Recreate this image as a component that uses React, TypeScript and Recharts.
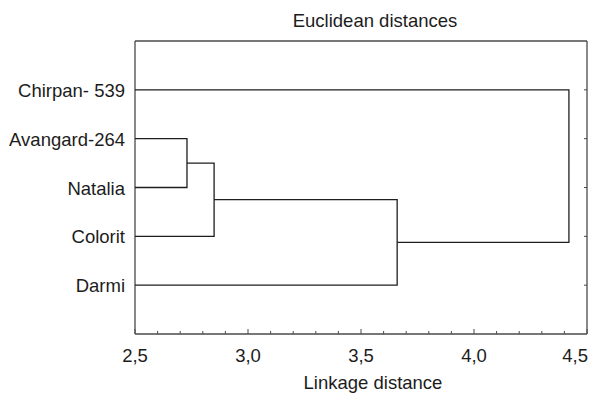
import { ScatterChart, Scatter, XAxis, YAxis } from 'recharts'

const leafNames = ['Chirpan- 539', 'Avangard-264', 'Natalia', 'Colorit', 'Darmi']
const leafSlots = [1, 2, 3, 4, 5]
// clusters 0-4 are the leaves, 5+ are the earlier merges (in order)
const mergeLeft = [1, 5, 6, 0]
const mergeRight = [2, 3, 4, 7]
const mergeHeights = [2.73, 2.85, 3.66, 4.42]

const majorTicks = [2.5, 3.0, 3.5, 4.0, 4.5]
const minorTicks = [
  2.5, 2.6, 2.7, 2.8, 2.9, 3.0, 3.1, 3.2, 3.3, 3.4, 3.5,
  3.6, 3.7, 3.8, 3.9, 4.0, 4.1, 4.2, 4.3, 4.4, 4.5
]

const FONT = 'Arial, "Liberation Sans", sans-serif'
const FS = 18.5
const TEXT = '#1c1c1c'
const FRAME = '#4a4a4a'
const LINK = '#1e1e1e'

// build the U-shaped links from the merge table
const nodeX: number[] = leafSlots.map(() => majorTicks[0])
const nodeY: number[] = [...leafSlots]
const links = mergeHeights.map((h, k) => {
  const a = mergeLeft[k]
  const b = mergeRight[k]
  nodeX.push(h)
  nodeY.push((nodeY[a] + nodeY[b]) / 2)
  return [
    { x: nodeX[a], y: nodeY[a] },
    { x: h, y: nodeY[a] },
    { x: h, y: nodeY[b] },
    { x: nodeX[b], y: nodeY[b] }
  ]
})

const fmt = (v: number) => v.toFixed(1).replace('.', ',')

function BottomTick({ x, y, payload }: any) {
  const major = majorTicks.includes(payload.value)
  const last = payload.value === majorTicks[majorTicks.length - 1]
  return (
    <g>
      <line x1={x} x2={x} y1={y} y2={y - (major ? 5 : 3)} stroke={FRAME} strokeWidth={1} />
      {major && (
        <text
          x={last ? x + 1 : x}
          y={y + 28}
          textAnchor={last ? 'end' : 'middle'}
          fontSize={FS}
          fontFamily={FONT}
          fill={TEXT}
        >
          {fmt(payload.value)}
        </text>
      )}
    </g>
  )
}

function TopTick({ x, y, payload }: any) {
  const major = majorTicks.includes(payload.value)
  return <line x1={x} x2={x} y1={y} y2={y + (major ? 5 : 3)} stroke={FRAME} strokeWidth={1} />
}

function LeftTick({ x, y, payload }: any) {
  return (
    <text x={x} y={y + 7} textAnchor="end" fontSize={FS} fontFamily={FONT} fill={TEXT}>
      {leafNames[payload.value - 1]}
    </text>
  )
}

function RightTick({ x, y }: any) {
  return <line x1={x} x2={x - 3} y1={y} y2={y} stroke={FRAME} strokeWidth={1} />
}

export default function App() {
  return (
    <div style={{ position: 'absolute', left: 0, top: 0 }}>
      <ScatterChart width={592} height={393} margin={{ top: 40, right: 0, bottom: 0, left: 0 }}>
        <XAxis
          type="number"
          dataKey="x"
          domain={[2.5, 4.5]}
          allowDataOverflow
          ticks={minorTicks}
          interval={0}
          height={59}
          tickSize={0}
          tickMargin={0}
          tickLine={false}
          axisLine={{ stroke: FRAME, strokeWidth: 1.3 }}
          tick={(p: any) => <BottomTick {...p} />}
          label={({ viewBox }: any) => (
            <text
              x={viewBox.x + viewBox.width / 2 + 12}
              y={389}
              textAnchor="middle"
              fontSize={FS}
              fontFamily={FONT}
              fill={TEXT}
            >
              Linkage distance
            </text>
          )}
        />
        <XAxis
          xAxisId="top"
          orientation="top"
          type="number"
          domain={[2.5, 4.5]}
          allowDataOverflow
          ticks={minorTicks}
          interval={0}
          height={1}
          tickSize={0}
          tickMargin={0}
          tickLine={false}
          axisLine={{ stroke: FRAME, strokeWidth: 1.3 }}
          tick={(p: any) => <TopTick {...p} />}
          label={({ viewBox }: any) => (
            <text
              x={viewBox.x + viewBox.width / 2 + 14}
              y={27}
              textAnchor="middle"
              fontSize={FS}
              fontFamily={FONT}
              fill={TEXT}
            >
              Euclidean distances
            </text>
          )}
        />
        <YAxis
          type="number"
          dataKey="y"
          domain={[0, 6]}
          reversed
          allowDataOverflow
          ticks={leafSlots}
          interval={0}
          width={135}
          tickSize={0}
          tickMargin={10}
          tickLine={false}
          axisLine={{ stroke: FRAME, strokeWidth: 1.3 }}
          tick={(p: any) => <LeftTick {...p} />}
        />
        <YAxis
          yAxisId="right"
          orientation="right"
          type="number"
          domain={[0, 6]}
          reversed
          allowDataOverflow
          ticks={leafSlots}
          interval={0}
          width={5}
          tickSize={0}
          tickMargin={0}
          tickLine={false}
          axisLine={{ stroke: FRAME, strokeWidth: 1.3 }}
          tick={(p: any) => <RightTick {...p} />}
        />
        {links.map((pts, i) => (
          <Scatter
            key={i}
            data={pts}
            line={{ stroke: LINK, strokeWidth: 1.3 }}
            lineType="joint"
            shape={() => <g />}
            legendType="none"
            isAnimationActive={false}
          />
        ))}
      </ScatterChart>
    </div>
  )
}
